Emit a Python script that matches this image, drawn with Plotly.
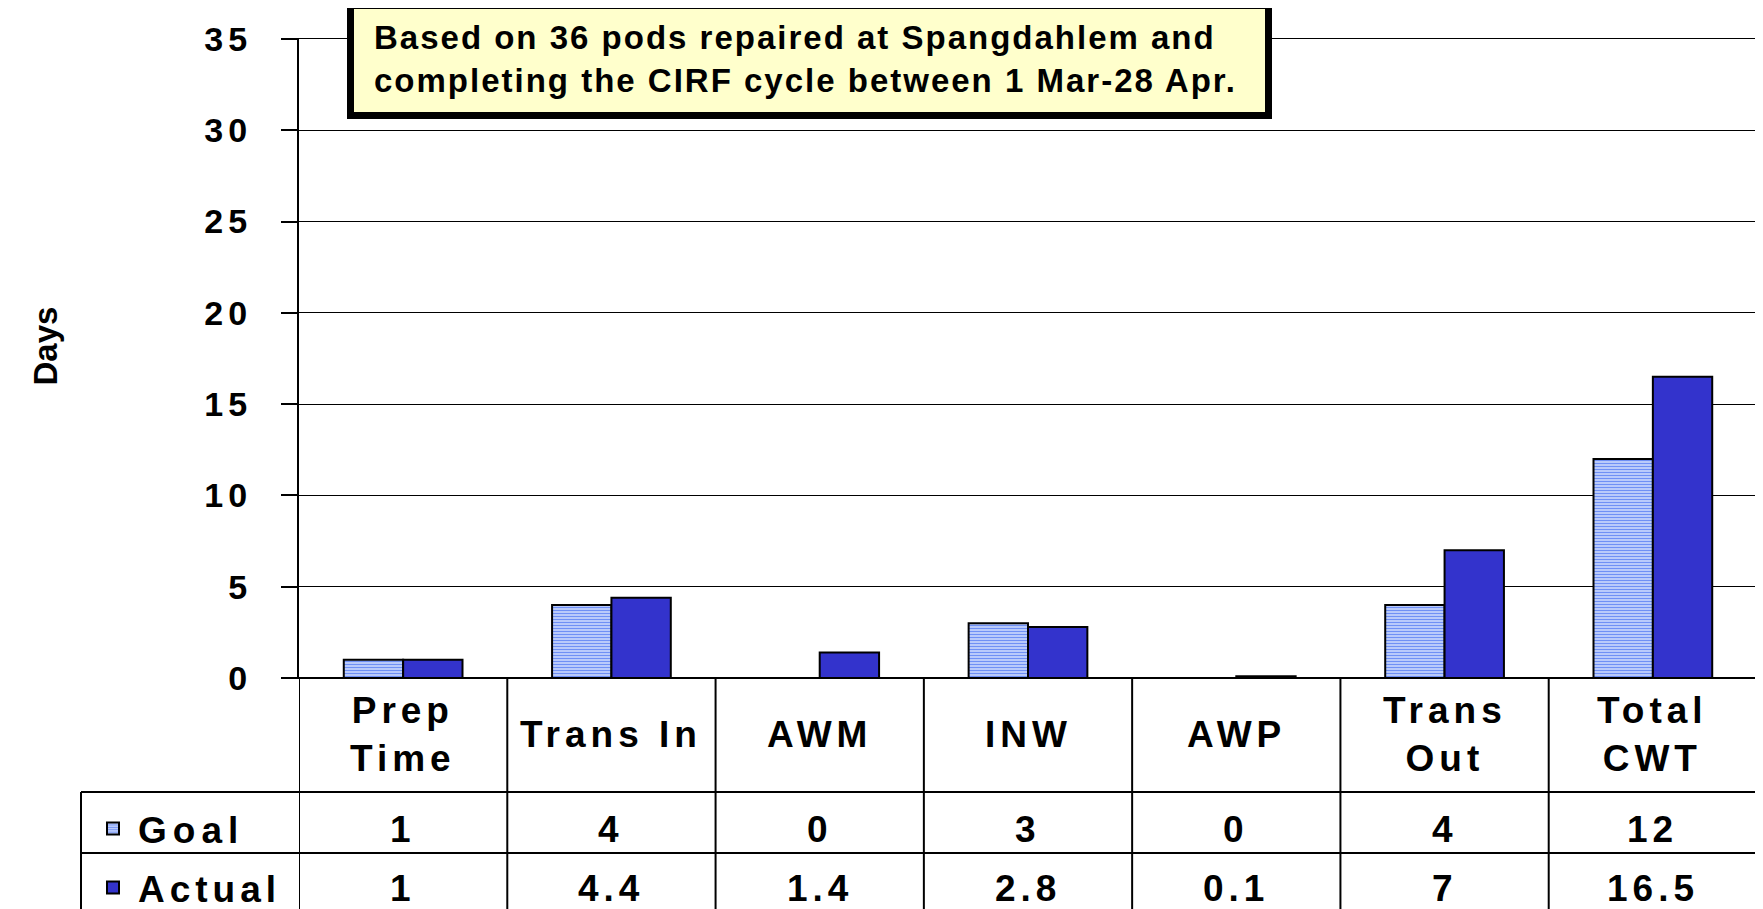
"""
CIRF cycle time chart: goal vs actual days per segment, with data table underneath.
"""

import plotly.graph_objects as go

categories = ["Prep Time", "Trans In", "AWM", "INW", "AWP", "Trans Out", "Total CWT"]
header_labels = ["Prep<br>Time", "Trans In", "AWM", "INW", "AWP", "Trans<br>Out", "Total<br>CWT"]
goal = [1, 4, 0, 3, 0, 4, 12]
actual = [1, 4.4, 1.4, 2.8, 0.1, 7, 16.5]
y_ticks = [0, 5, 10, 15, 20, 25, 30, 35]
note = "Based on 36 pods repaired at Spangdahlem and<br>completing the CIRF cycle between 1 Mar-28 Apr."

FONT = "Liberation Sans, Arial, sans-serif"
# the page body has an 8px margin, so the figure is drawn 8px in from the top-left corner
PAGE_PAD = 8
W, H = 1763 - PAGE_PAD, 909 - PAGE_PAD
# plot area in screenshot pixels
LEFT, RIGHT, TOP, ZERO = 299, 1757, 39, 678


def spaced(text, px):
    """Wrap each line in a span with letter spacing (the original uses spread-out lettering)."""
    return "<br>".join(
        f'<span style="letter-spacing:{px}px">{line}</span>' for line in text.split("<br>"))


def px_x(x):
    return (x - LEFT) / (RIGHT - LEFT)


def px_y(y):
    return (ZERO - y) / (ZERO - TOP)


def main():
    fig = go.Figure()
    fig.add_trace(
        go.Bar(
            x=categories, y=goal, name=spaced("Goal", 6), legend="legend",
            marker=dict(
                color="#DDE6FF",
                pattern=dict(shape="-", fgcolor="#6F90F5", bgcolor="#DDE6FF", size=3, solidity=0.55),
                line=dict(color="black", width=2))))
    fig.add_trace(
        go.Bar(
            x=categories, y=actual, name=spaced("Actual", 5), legend="legend2",
            marker=dict(color="#3333CC", line=dict(color="black", width=2))))

    # table grid below the plot
    line = dict(color="black", width=2)
    bottom = px_y(930)
    for i in range(len(categories) + 1):
        fig.add_shape(type="line", xref="x", yref="paper", x0=i - 0.5, x1=i - 0.5, y0=0,
                      y1=bottom, line=line)
    fig.add_shape(type="line", xref="paper", yref="paper", x0=px_x(81), x1=px_x(81),
                  y0=px_y(792), y1=bottom, line=line)
    for yy in (792, 853):
        fig.add_shape(type="line", xref="paper", yref="paper", x0=px_x(81), x1=1, y0=px_y(yy),
                      y1=px_y(yy), line=line)

    big = dict(family=FONT, size=37, color="black", weight="bold")
    for cat, label, g, a in zip(categories, header_labels, goal, actual):
        fig.add_annotation(x=cat, y=px_y(734), xref="x", yref="paper", text=spaced(label, 5),
                           showarrow=False, font=big, yanchor="middle")
        fig.add_annotation(x=cat, y=px_y(829), xref="x", yref="paper", text=spaced(f"{g:g}", 5),
                           showarrow=False, font=big, yanchor="middle")
        fig.add_annotation(x=cat, y=px_y(888), xref="x", yref="paper", text=spaced(f"{a:g}", 5),
                           showarrow=False, font=big, yanchor="middle")

    # note box
    fig.add_shape(type="rect", xref="paper", yref="paper", x0=px_x(350.5), x1=px_x(1268.5),
                  y0=px_y(115.5), y1=px_y(5.5), fillcolor="#FFFFCC", line=dict(color="black", width=7),
                  layer="above")
    fig.add_annotation(x=px_x(372), y=px_y(59), xref="paper", yref="paper", xanchor="left",
                       yanchor="middle", align="left", text=spaced(note, 2), showarrow=False,
                       font=dict(family=FONT, size=33, color="black", weight="bold"))

    fig.add_annotation(x=px_x(24), y=px_y(346), xref="paper", yref="paper", text="Days",
                       textangle=-90, showarrow=False,
                       font=dict(family=FONT, size=33, color="black", weight="bold"))

    legend_common = dict(xref="container", yref="container", xanchor="left", yanchor="middle",
                         bgcolor="rgba(0,0,0,0)", itemwidth=40, font=big,
                         x=(88 - PAGE_PAD) / W)
    fig.update_layout(
        template="none",
        width=W, height=H,
        margin=dict(l=LEFT - PAGE_PAD, r=W - (RIGHT - PAGE_PAD), t=TOP - PAGE_PAD,
                    b=H - (ZERO - PAGE_PAD)),
        paper_bgcolor="white", plot_bgcolor="white",
        barmode="group", bargap=0.43, bargroupgap=0,
        showlegend=True, hovermode=False,
        legend=dict(y=1 - (829 - PAGE_PAD) / H, **legend_common),
        legend2=dict(y=1 - (888 - PAGE_PAD) / H, **legend_common),
        xaxis=dict(range=[-0.5, len(categories) - 0.5], showticklabels=False, ticks="",
                   showgrid=False, showline=True, mirror=True, linecolor="black", linewidth=1.4,
                   zeroline=False, automargin=False),
        yaxis=dict(range=[0, 35], tickvals=y_ticks, ticktext=[spaced(str(t), 5) for t in y_ticks],
                   tickfont=dict(family=FONT, size=34, color="black", weight="bold"),
                   ticks="outside", ticklen=16, tickwidth=2, tickcolor="black",
                   ticklabelstandoff=22, automargin=False,
                   showline=True, linecolor="black", linewidth=2,
                   showgrid=True, gridcolor="black", gridwidth=1.4,
                   zeroline=True, zerolinecolor="black", zerolinewidth=2),
    )
    fig.write_html("out.html")


if __name__ == "__main__":
    main()
